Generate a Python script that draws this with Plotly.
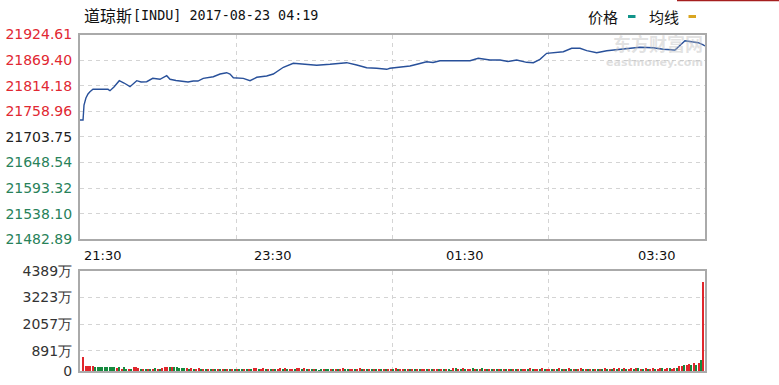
import plotly.graph_objects as go

# ---------------- data ----------------
# minutes after 21:30 (session 21:30 - 04:00 = 390 min) and index level
price_minutes = [0, 1.9, 2.5, 3.7, 5.0, 6.2, 8.1, 12.5, 17.5, 18.7, 21.2, 24.5, 27.5, 31.2,
                 35.4, 38.1, 41.6, 45.4, 49.9, 54.1, 56.2, 59.9, 64.5, 67.4, 70.7, 73.6,
                 76.9, 83.2, 87.4, 91.5, 93.6, 95.7, 101.9, 106.1, 110.3, 116.5, 120.6,
                 123.6, 126.9, 133.1, 139.3, 147.7, 156.0, 166.4, 172.7, 178.9, 185.1,
                 191.4, 193.4, 205.9, 210.9, 216.3, 220.3, 224.6, 235.1, 243.4, 248.5,
                 255.8, 262.1, 267.1, 272.5, 278.7, 282.9, 287.0, 291.2, 294.3, 301.6,
                 306.8, 312.0, 316.2, 322.4, 328.7, 337.0, 343.2, 349.4, 357.7, 364.0,
                 371.3, 374.4, 377.5, 381.7, 385.8, 388.9, 390.0]
price_values = [21740.2, 21740.2, 21772.5, 21787.6, 21796.3, 21801.2, 21806.4, 21806.4,
                21806.4, 21803.4, 21811.4, 21825.0, 21820.0, 21812.0, 21825.0, 21822.1,
                21822.8, 21830.1, 21828.0, 21835.7, 21828.0, 21825.4, 21822.8, 21822.1,
                21824.3, 21824.3, 21830.1, 21833.6, 21839.4, 21842.2, 21839.4, 21831.4,
                21830.1, 21825.0, 21832.3, 21835.1, 21839.4, 21845.9, 21853.9, 21862.5,
                21860.3, 21858.2, 21860.3, 21863.8, 21858.8, 21853.0, 21851.7, 21849.5,
                21851.7, 21856.7, 21861.0, 21865.9, 21864.2, 21868.1, 21868.1, 21868.1,
                21873.3, 21869.6, 21869.6, 21866.4, 21869.6, 21864.6, 21863.8, 21871.1,
                21884.0, 21885.3, 21887.5, 21894.8, 21894.8, 21889.7, 21885.3, 21889.7,
                21892.7, 21894.8, 21897.0, 21896.1, 21892.7, 21891.2, 21902.0, 21911.2,
                21909.1, 21906.9, 21902.0, 21899.8]

base_price = 21703.75
price_ticks = [21482.89, 21538.10, 21593.32, 21648.54, 21703.75,
               21758.96, 21814.18, 21869.40, 21924.61]
pct_labels = ["1.02%", "0.76%", "0.51%", "0.25%", "0.00%",
              "0.25%", "0.51%", "0.76%", "1.02%"]

vol_ticks = [0, 891, 2057, 3223, 4389]
vol_labels = ["0", "891万", "2057万", "3223万", "4389万"]

time_minutes = [0, 120, 240, 360]
time_labels = ["21:30", "23:30", "01:30", "03:30"]

# volume (万), one bar every 1.5 minutes
volume = [
    620, 220, 235, 230, 210, 185, 175, 180, 170, 175, 165, 170, 160, 175, 150, 165, 90, 160, 70, 95,
    80, 160, 180, 140, 90, 70, 85, 60, 95, 80, 110, 70, 90, 150, 175, 180, 170, 185, 165, 160,
    150, 140, 150, 130, 90, 110, 70, 85, 130, 100, 75, 60, 85, 70, 65, 80, 95, 70, 60, 75,
    80, 60, 70, 85, 65, 70, 60, 80, 70, 60, 85, 110, 120, 90, 70, 115, 80, 100, 75, 90,
    70, 65, 110, 85, 120, 70, 60, 95, 80, 130, 120, 70, 110, 85, 60, 75, 100, 65, 40, 70,
    60, 75, 65, 80, 70, 90, 75, 60, 110, 60, 45, 70, 85, 60, 95, 120, 80, 70, 90, 65,
    75, 60, 55, 100, 70, 65, 80, 60, 90, 70, 115, 85, 60, 95, 70, 60, 75, 90, 65, 60,
    80, 70, 100, 60, 55, 75, 70, 95, 60, 70, 85, 60, 70, 40, 150, 120, 95, 80, 110, 70,
    60, 95, 110, 75, 60, 105, 130, 70, 90, 65, 60, 80, 70, 60, 75, 70, 65, 80, 70, 60,
    75, 70, 65, 80, 100, 70, 110, 75, 60, 95, 70, 120, 80, 65, 100, 70, 90, 75, 110, 85,
    95, 70, 130, 80, 100, 75, 90, 110, 80, 70, 95, 85, 75, 100, 80, 70, 90, 120, 85, 100,
    75, 130, 90, 110, 80, 120, 95, 85, 130, 90, 110, 120, 100, 85, 140, 100, 90, 120, 95, 85,
    130, 110, 100, 140, 120, 90, 150, 110, 200, 220, 260, 280, 300, 250, 330, 280, 360, 470, 3920,
]
volume_dir = (
    "rrrrrgggggggggrgrggr"
    "grrrgrgrgrgrgrrrgrgg"
    "gggrgrgrrgrgrgrgrgrg"
    "rgrgrggrgrgrrgrrgrgr"
    "grrgrgrrgrrgrgrgrggg"
    "rggrgrgrrggrrgrrgrgr"
    "grgrgrgrrgrgrrgrgrgr"
    "grrgrgrrgrgrggrgrgrg"
    "rrgrgrgrgrgrgrgrgrgr"
    "grgrrgrgrrgrgrrgrgrg"
    "rgrgrgrrgrgrgrgrgrgr"
    "grgrgrgrrgrgrgrgrrgr"
    "rgrrgrrgrrgrrgrgrgr"
)

# ---------------- style ----------------
W, H = 779, 385
LINE = "#28509a"
RED_TXT = "#e12832"
GREEN_TXT = "#28825a"
BLACK_TXT = "#222222"
BAR_RED = "#e0262c"
BAR_GREEN = "#168a3e"
BORDER = "#aaaaaa"
GRID = "#d4d4d4"
FONT = "DejaVu Sans"

px0, px1 = 80, 705
main_top, main_bot = 34.5, 239.3
vol_top, vol_bot = 271, 371

def pxx(v):
    return v / W

def pxy(v):
    return 1 - v / H

x_dom = [pxx(px0), pxx(px1)]
quarters = [97.5, 195, 292.5]

def level_color(v):
    if abs(v - base_price) < 0.005:
        return BLACK_TXT
    return RED_TXT if v > base_price else GREEN_TXT

left_text = [f"<span style='color:{level_color(v)}'>{v:.2f}</span>" for v in price_ticks]
right_text = [f"<span style='color:{level_color(v)}'>{t}</span>" for v, t in zip(price_ticks, pct_labels)]

vol_x = [2 + 1.5 * i for i in range(len(volume))]
bar_colors = [BAR_RED if c == "r" else BAR_GREEN for c in volume_dir]

fig = go.Figure()
fig.add_trace(go.Scatter(x=price_minutes, y=price_values, mode="lines",
                         line=dict(color=LINE, width=1.4), xaxis="x", yaxis="y",
                         hoverinfo="skip", showlegend=False))
fig.add_trace(go.Bar(x=vol_x, y=volume, marker=dict(color=bar_colors, line_width=0),
                     width=0.7, xaxis="x2", yaxis="y3", hoverinfo="skip", showlegend=False))

common_x = dict(domain=x_dom, range=[0, 390], tickvals=quarters, showticklabels=False,
                showgrid=True, gridcolor=GRID, griddash="4px,4px", gridwidth=1,
                showline=True, mirror=True, linecolor=BORDER, linewidth=2,
                zeroline=False, ticks="", fixedrange=True, automargin=False)

fig.update_layout(
    width=W, height=H, autosize=False,
    margin=dict(l=0, r=0, t=0, b=0, pad=0, autoexpand=False),
    paper_bgcolor="white", plot_bgcolor="white",
    showlegend=False, bargap=0,
    xaxis=dict(anchor="y", **common_x),
    xaxis2=dict(anchor="y3", **common_x),
    yaxis=dict(domain=[pxy(main_bot), pxy(main_top)], range=[price_ticks[0], price_ticks[-1]],
               tickvals=price_ticks, ticktext=left_text, anchor="x",
               showgrid=True, gridcolor=GRID, griddash="4px,4px", gridwidth=1,
               showline=True, mirror=True, linecolor=BORDER, linewidth=2, zeroline=False,
               ticks="outside", ticklen=3, tickcolor="rgba(0,0,0,0)", automargin=False,
               tickfont=dict(family=FONT, size=14), fixedrange=True),
    yaxis2=dict(overlaying="y", side="right", anchor="x",
                range=[price_ticks[0], price_ticks[-1]],
                tickvals=price_ticks, ticktext=right_text, showgrid=False, zeroline=False,
                showline=False, ticks="outside", ticklen=4, tickcolor="rgba(0,0,0,0)",
                automargin=False,
                tickfont=dict(family=FONT, size=14), fixedrange=True),
    yaxis3=dict(domain=[pxy(vol_bot), pxy(vol_top)], range=[0, vol_ticks[-1]], anchor="x2",
                tickvals=vol_ticks, ticktext=vol_labels,
                showgrid=True, gridcolor=GRID, griddash="4px,4px", gridwidth=1,
                showline=True, mirror=True, linecolor=BORDER, linewidth=2, zeroline=False,
                ticks="outside", ticklen=3, tickcolor="rgba(0,0,0,0)", automargin=False,
                tickfont=dict(family=FONT, size=14, color="#333333"), fixedrange=True),
)

annotations = []
# title
annotations.append(dict(text="道琼斯", x=pxx(82), y=pxy(15), xref="paper", yref="paper",
                        xanchor="left", yanchor="middle", showarrow=False,
                        font=dict(family="Noto Sans CJK SC", size=16, color="#111")))
annotations.append(dict(text="[INDU] 2017-08-23 04:19", x=pxx(131), y=pxy(15),
                        xref="paper", yref="paper", xanchor="left", yanchor="middle",
                        showarrow=False,
                        font=dict(family="DejaVu Sans Mono", size=13.4, color="#111")))
# legend
annotations.append(dict(text="价格", x=pxx(603), y=pxy(16), xref="paper", yref="paper",
                        xanchor="center", yanchor="middle", showarrow=False,
                        font=dict(family="Noto Sans CJK SC", size=15, color="#111")))
annotations.append(dict(text="均线", x=pxx(664), y=pxy(16), xref="paper", yref="paper",
                        xanchor="center", yanchor="middle", showarrow=False,
                        font=dict(family="Noto Sans CJK SC", size=15, color="#111")))
# watermark
annotations.append(dict(text="<b>东方财富网</b>", x=pxx(705), y=pxy(43), xref="paper", yref="paper",
                        xanchor="right", yanchor="middle", showarrow=False,
                        font=dict(family="Noto Sans CJK SC", size=18, color="rgba(190,190,190,0.45)")))
annotations.append(dict(text="<b>eastmoney.com</b>", x=pxx(705), y=pxy(63), xref="paper", yref="paper",
                        xanchor="right", yanchor="middle", showarrow=False,
                        font=dict(family=FONT, size=11, color="rgba(190,190,190,0.5)")))
# time labels
for m, t in zip(time_minutes, time_labels):
    annotations.append(dict(text=t, x=m, y=pxy(255), xref="x", yref="paper",
                            xanchor="left" if m == 0 else "center", xshift=2 if m == 0 else 0,
                            yanchor="middle", showarrow=False,
                            font=dict(family=FONT, size=13, color="#111")))

shapes = [
    dict(type="rect", xref="paper", yref="paper", x0=pxx(628), x1=pxx(635.5),
         y0=pxy(18), y1=pxy(15), fillcolor="#11948a", line=dict(width=0)),
    dict(type="rect", xref="paper", yref="paper", x0=pxx(688.5), x1=pxx(696),
         y0=pxy(18), y1=pxy(15), fillcolor="#d9a520", line=dict(width=0)),
    dict(type="line", xref="paper", yref="paper", x0=pxx(677), x1=1,
         y0=pxy(0.5), y1=pxy(0.5), line=dict(color="#a51e1e", width=1.5)),
]

fig.update_layout(annotations=annotations, shapes=shapes)
fig.write_html("out.html")
